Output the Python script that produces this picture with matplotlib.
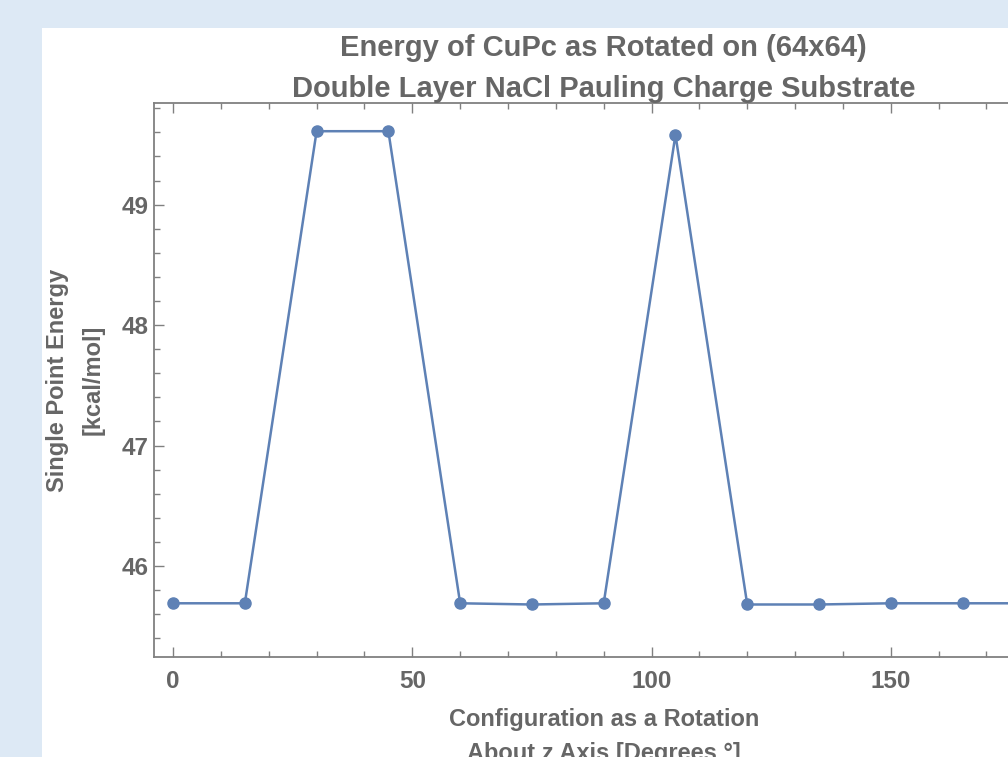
import matplotlib.pyplot as plt
from matplotlib.patches import Rectangle
from matplotlib.ticker import MultipleLocator

# rotation angle (degrees) and single point energy (kcal/mol)
angles = [0, 15, 30, 45, 60, 75, 90, 105, 120, 135, 150, 165, 180]
energy = [45.69, 45.69, 49.61, 49.61, 45.69, 45.68, 45.69, 49.58,
          45.68, 45.68, 45.69, 45.69, 45.69]

title = "Energy of CuPc as Rotated on (64x64)\nDouble Layer NaCl Pauling Charge Substrate"
xlab = "Configuration as a Rotation\nAbout z Axis [Degrees °]"
ylab = "Single Point Energy\n[kcal/mol]"

txt = '#666666'
frame = '#808080'
blue = '#5e81b5'

plt.rcParams['font.family'] = ['Liberation Sans', 'DejaVu Sans']

fig = plt.figure(figsize=(10.08, 7.57), dpi=100)
fig.patch.set_facecolor('#dde9f5')
# white panel behind the plot
fig.add_artist(Rectangle((42 / 1008, 0), 1, 1 - 28 / 757,
                         transform=fig.transFigure, facecolor='white',
                         edgecolor='none', zorder=-10))

ax = fig.add_axes([0.1527, 0.1321, 0.8924, 0.7318])
ax.set_facecolor('none')
ax.plot(angles, energy, '-o', color=blue, lw=1.8, ms=8)

ax.set_xlim(-4, 184)
ax.set_ylim(45.244, 49.844)
ax.xaxis.set_major_locator(MultipleLocator(50))
ax.xaxis.set_minor_locator(MultipleLocator(10))
ax.yaxis.set_major_locator(MultipleLocator(1))
ax.yaxis.set_minor_locator(MultipleLocator(0.2))

for s in ax.spines.values():
    s.set_color(frame)
    s.set_linewidth(1.3)

ax.tick_params(which='both', direction='in', top=True, right=True,
               color=frame, width=1.0, labelcolor=txt, labelsize=17.5)
ax.tick_params(axis='x', which='both', pad=9)
ax.tick_params(axis='y', which='both', pad=4)
ax.tick_params(which='major', length=7)
ax.tick_params(which='minor', length=4)
for lab in ax.get_xticklabels() + ax.get_yticklabels():
    lab.set_fontweight('bold')

ax.set_title(title, color=txt, fontsize=21, fontweight='bold',
             linespacing=1.58, pad=4)
ax.set_xlabel(xlab, color=txt, fontsize=17, fontweight='bold',
              linespacing=1.65, labelpad=11)
ax.set_ylabel(ylab, color=txt, fontsize=17, fontweight='bold',
              linespacing=1.7, labelpad=12)

fig.savefig('out.png', dpi=100, facecolor=fig.get_facecolor())
